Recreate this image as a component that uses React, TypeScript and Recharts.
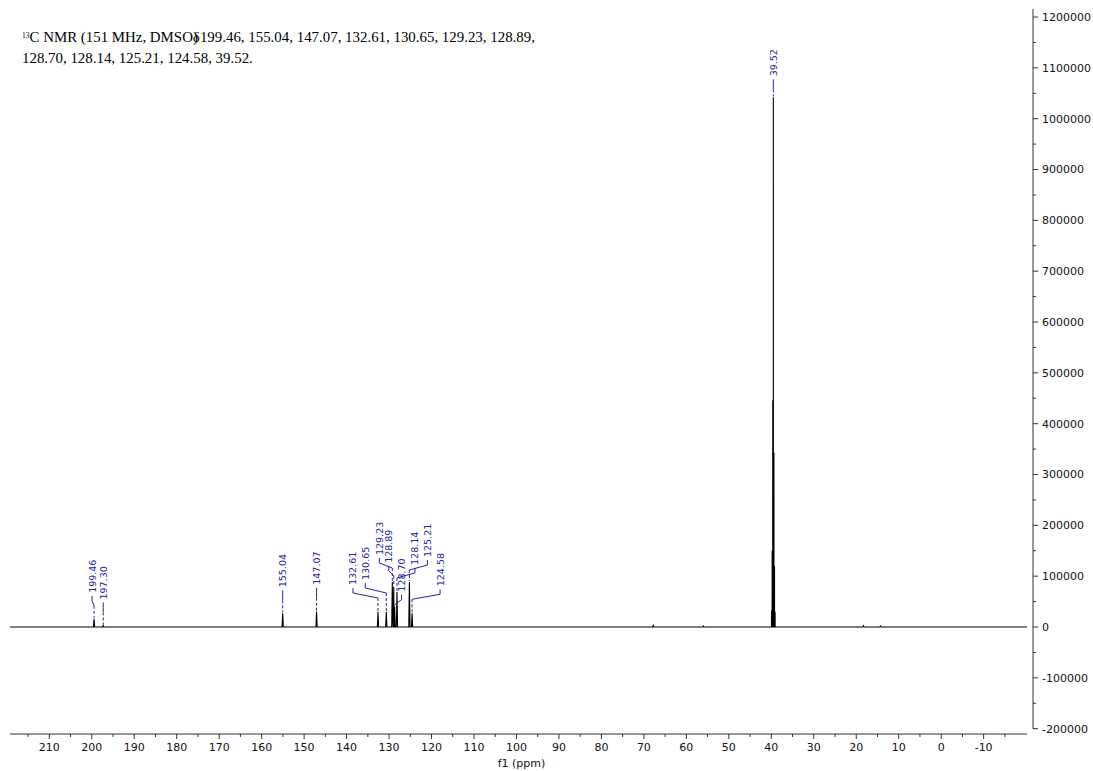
import React from 'react';
import { ComposedChart, Line, Scatter, XAxis, YAxis, ReferenceLine } from 'recharts';

// Picked 13C peaks: chemical shift (ppm), intensity and printed label
const peakShifts = [199.46, 197.3, 155.04, 147.07, 132.61, 130.65, 129.23, 128.89, 128.7, 128.14, 125.21, 124.58, 39.52];
const peakHeights = [16000, 3000, 27000, 30000, 29500, 29500, 88500, 79000, 40000, 69000, 88500, 27000, 1042000];
const peakLabels = ['199.46', '197.30', '155.04', '147.07', '132.61', '130.65', '129.23', '128.89', '128.70', '128.14', '125.21', '124.58', '39.52'];

// Unlabelled lines: DMSO-d6 septet around 39.52 and small baseline signals
const extraShifts = [39.94, 39.8, 39.66, 39.38, 39.24, 39.1, 67.8, 56.0, 18.3, 14.3];
const extraHeights = [33000, 150000, 446000, 343000, 120000, 30000, 3000, 2000, 2500, 2000];

// Axis ticks
const xMajorTicks = [210, 200, 190, 180, 170, 160, 150, 140, 130, 120, 110, 100, 90, 80, 70, 60, 50, 40, 30, 20, 10, 0, -10];
const xMinorTicks = [215, 205, 195, 185, 175, 165, 155, 145, 135, 125, 115, 105, 95, 85, 75, 65, 55, 45, 35, 25, 15, 5, -5, -15];
const yMajorTicks = [1200000, 1100000, 1000000, 900000, 800000, 700000, 600000, 500000, 400000, 300000, 200000, 100000, 0, -100000, -200000];
const yMinorTicks = [1150000, 1050000, 950000, 850000, 750000, 650000, 550000, 450000, 350000, 250000, 150000, 50000, -50000, -150000];

const X_LEFT = 219.25;
const X_RIGHT = -21.62;
const SPEC_END = -20.2;
const Y_MIN = -210500;
const Y_MAX = 1215800;

const AXIS_COLOR = '#333333';
const LABEL_COLOR = '#24249c';
const AXIS_FONT = '"DejaVu Sans", Verdana, sans-serif';
const LINE_HALF_WIDTH = 0.15;

// Label placement in px: horizontal shift of the text from its peak, and height of the text foot above the peak top
const labelLayout: Record<string, { dx: number; lift: number }> = {
  '199.46': { dx: -2, lift: 26 },
  '197.30': { dx: 0, lift: 26 },
  '155.04': { dx: 0, lift: 26 },
  '147.07': { dx: 0, lift: 27 },
  '132.61': { dx: -25, lift: 27 },
  '130.65': { dx: -21, lift: 32 },
  '129.23': { dx: -13, lift: 27 },
  '128.89': { dx: -5, lift: 24 },
  '128.70': { dx: 7, lift: 15 },
  '128.14': { dx: 18, lift: 27 },
  '125.21': { dx: 18, lift: 25 },
  '124.58': { dx: 28, lift: 27 },
  '39.52': { dx: 0, lift: 21 },
};

// Spectrum trace: each line drawn as a narrow peak on a flat baseline
const lines = [
  ...peakShifts.map((s, i) => ({ s, h: peakHeights[i] })),
  ...extraShifts.map((s, i) => ({ s, h: extraHeights[i] })),
];
const spectrum = [
  { ppm: X_LEFT, intensity: 0 },
  { ppm: SPEC_END, intensity: 0 },
  ...lines.flatMap(({ s, h }) => [
    { ppm: s + LINE_HALF_WIDTH, intensity: 0 },
    { ppm: s, intensity: h },
    { ppm: s - LINE_HALF_WIDTH, intensity: 0 },
  ]),
].sort((a, b) => b.ppm - a.ppm);

const labelData = peakShifts.map((ppm, i) => ({ ppm, intensity: peakHeights[i], label: peakLabels[i] }));

const XTick = (props: any) => {
  const { x, y, payload } = props;
  const major = payload.value % 10 === 0;
  return (
    <g>
      <line x1={x} x2={x} y1={y} y2={y + (major ? 5 : 3)} stroke={AXIS_COLOR} strokeWidth={1} />
      {major && (
        <text x={x} y={y + 17} textAnchor="middle" fontSize={11} fontFamily={AXIS_FONT} fill="#111">
          {payload.value}
        </text>
      )}
    </g>
  );
};

const YTick = (props: any) => {
  const { x, y, payload } = props;
  const major = payload.value % 100000 === 0;
  return (
    <g>
      <line x1={x} x2={x + (major ? 5 : 3)} y1={y} y2={y} stroke={AXIS_COLOR} strokeWidth={1} />
      {major && (
        <text x={x + 9} y={y} dy="0.36em" textAnchor="start" fontSize={11} fontFamily={AXIS_FONT} fill="#111">
          {payload.value}
        </text>
      )}
    </g>
  );
};

const PeakLabel = (props: any) => {
  const { cx, cy, payload } = props;
  if (cx == null || cy == null) return null;
  const lay = labelLayout[payload.label] || { dx: 0, lift: 24 };
  const tx = cx + lay.dx;
  const tb = cy - lay.lift;
  const bend = Math.min(tb + 13, cy - 1);
  return (
    <g>
      <polyline
        points={`${tx},${tb + 3} ${tx},${tb + 8} ${cx},${bend}`}
        fill="none"
        stroke={LABEL_COLOR}
        strokeWidth={1}
      />
      <line x1={cx} x2={cx} y1={bend} y2={cy - 1} stroke={LABEL_COLOR} strokeWidth={1} strokeDasharray="3 2" />
      <text
        transform={`translate(${tx},${tb}) rotate(-90)`}
        dominantBaseline="central"
        textAnchor="start"
        fontSize={9.5}
        fontFamily={AXIS_FONT}
        fill={LABEL_COLOR}
      >
        {payload.label}
      </text>
    </g>
  );
};

export default function App() {
  return (
    <div style={{ position: 'absolute', left: 0, top: 0, width: 1093, height: 771, background: '#fff' }}>
      <ComposedChart width={1093} height={771} margin={{ top: 9, right: 0, bottom: 0, left: 10 }}>
        <XAxis
          type="number"
          dataKey="ppm"
          domain={[X_RIGHT, X_LEFT]}
          reversed
          allowDataOverflow
          ticks={[...xMajorTicks, ...xMinorTicks].sort((a, b) => b - a)}
          tick={<XTick />}
          tickLine={false}
          axisLine={false}
          tickSize={0}
          tickMargin={0}
          interval={0}
          height={37}
          label={{
            value: 'f1 (ppm)',
            position: 'insideBottom',
            offset: 4,
            style: { fontSize: 11, fontFamily: AXIS_FONT, fill: '#111' },
          }}
        />
        <YAxis
          orientation="right"
          type="number"
          domain={[Y_MIN, Y_MAX]}
          allowDataOverflow
          ticks={[...yMajorTicks, ...yMinorTicks].sort((a, b) => b - a)}
          tick={<YTick />}
          tickLine={false}
          axisLine={false}
          tickSize={0}
          tickMargin={0}
          interval={0}
          width={60}
        />
        <ReferenceLine
          segment={[{ x: X_LEFT, y: Y_MIN }, { x: SPEC_END, y: Y_MIN }]}
          stroke={AXIS_COLOR}
          strokeWidth={1}
        />
        <ReferenceLine
          segment={[{ x: X_RIGHT, y: -200000 }, { x: X_RIGHT, y: Y_MAX }]}
          stroke={AXIS_COLOR}
          strokeWidth={1}
        />
        <Line
          data={spectrum}
          dataKey="intensity"
          type="linear"
          stroke="#000"
          strokeWidth={1.1}
          dot={false}
          activeDot={false}
          isAnimationActive={false}
        />
        <Scatter
          data={labelData}
          dataKey="intensity"
          shape={(p: any) => <PeakLabel {...p} />}
          isAnimationActive={false}
        />
      </ComposedChart>
      <div
        style={{
          position: 'absolute',
          left: 22,
          top: 28,
          fontFamily: '"Liberation Serif", "Times New Roman", serif',
          fontSize: 14.9,
          lineHeight: '18px',
          color: '#000',
          whiteSpace: 'nowrap',
        }}
      >
        <div>
          <span style={{ fontSize: 7.5, position: 'relative', top: -4 }}>13</span>C NMR (151 MHz, DMSO)
          <span style={{ marginLeft: -5 }}>δ</span>199.46, 155.04, 147.07, 132.61, 130.65, 129.23, 128.89,
        </div>
        <div>128.70, 128.14, 125.21, 124.58, 39.52.</div>
      </div>
    </div>
  );
}
